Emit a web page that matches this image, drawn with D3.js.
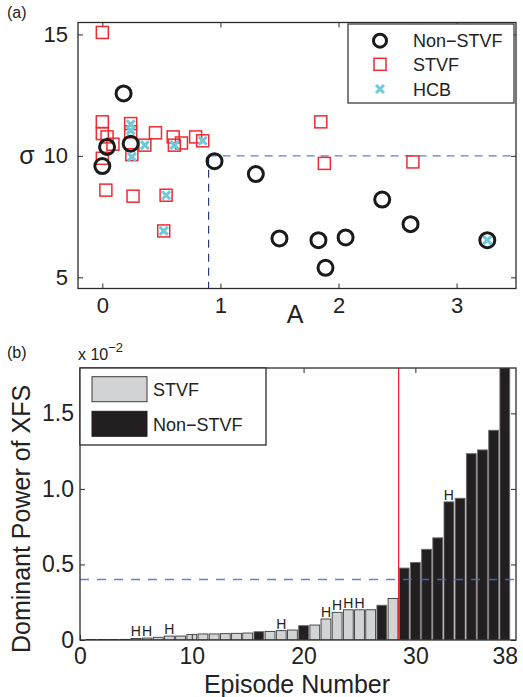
<!DOCTYPE html>
<html>
<head>
<meta charset="utf-8">
<script src="https://cdn.jsdelivr.net/npm/d3@7"></script>
<style>
  html, body { margin: 0; padding: 0; background: #fff; }
  svg { display: block; }
  text { font-family: "Liberation Sans", Arial, Helvetica, sans-serif; fill: #222; }
</style>
</head>
<body>
<svg id="chart" width="523" height="697"></svg>
<script>
// ---------- Panel (a) data ----------
const nonStvfA     = [0.00, 0.04, 0.18, 0.24, 0.95, 1.30, 1.50, 1.83, 1.89, 2.06, 2.37, 2.61, 3.26];
const nonStvfSigma = [9.58, 10.37, 12.57, 10.50, 9.78, 9.25, 6.60, 6.53, 5.39, 6.64, 8.20, 7.19, 6.53];

const stvfA     = [0.00, 0.00, 0.00, 0.04, 0.09, 0.00, 0.03, 0.24, 0.24, 0.25, 0.36, 0.45, 0.60, 0.61, 0.67, 0.79, 0.85, 0.26, 0.54, 0.52, 1.85, 1.88, 2.63];
const stvfSigma = [15.08, 11.40, 10.92, 10.78, 10.48, 9.90, 8.59, 11.33, 10.99, 10.05, 10.44, 10.95, 10.78, 10.44, 10.53, 10.78, 10.62, 8.34, 8.38, 6.91, 11.40, 9.69, 9.75];

const hcbA     = [0.24, 0.24, 0.25, 0.36, 0.61, 0.85, 0.54, 0.52, 3.26];
const hcbSigma = [11.30, 11.05, 9.96, 10.44, 10.44, 10.62, 8.38, 6.91, 6.53];

const aTicks = [0, 1, 2, 3];
const sigmaTicks = [5, 10, 15];
const thresholdA = 0.9;
const thresholdSigma = 10;
const legendA = ["Non\u2212STVF", "STVF", "HCB"];

// ---------- Panel (b) data ----------
const episodes = d3.range(1, 39);
const power = [0.003, 0.003, 0.003, 0.004, 0.010, 0.013, 0.018, 0.026, 0.026, 0.037,
               0.040, 0.040, 0.042, 0.044, 0.046, 0.055, 0.057, 0.062, 0.066, 0.095,
               0.099, 0.139, 0.183, 0.200, 0.200, 0.200, 0.230, 0.275, 0.476, 0.513,
               0.600, 0.676, 0.914, 0.938, 1.233, 1.258, 1.388, 1.800];
const episodeType = ["S","S","S","S","S","S","S","S","S","S",
                     "S","S","S","S","S","N","S","S","S","N",
                     "S","S","S","S","S","S","N","S","N","N",
                     "N","N","N","N","N","N","N","N"];
const hEpisodes = [5, 6, 8, 18, 22, 23, 24, 25, 33];
const episodeTicks = [0, 10, 20, 30, 38];
const powerTicks = [0, 0.5, 1.0, 1.5];
const powerTickLabels = ["0", "0.5", "1.0", "1.5"];
const thresholdPower = 0.4;
const splitEpisode = 28.5;
const legendB = ["STVF", "Non\u2212STVF"];

// ---------- Drawing ----------
const svg = d3.select("#chart");
const frameColor = "#2b2b2b";
const tickLen = 5;

function styleAxis(g, fs) {
  g.select(".domain").remove();
  g.selectAll(".tick line").attr("stroke", frameColor).attr("stroke-width", 1);
  g.selectAll(".tick text").attr("font-size", fs).attr("fill", "#222")
    .style("font-family", '"Liberation Sans", Arial, sans-serif');
}

// ===== Panel (a) =====
const ax = { left: 78, right: 516, top: 22.5, bottom: 288.5 };
const xA = d3.scaleLinear().domain([-0.206, 3.503]).range([ax.left, ax.right]);
const yA = d3.scaleLinear().domain([4.54, 15.49]).range([ax.bottom, ax.top]);

const gA = svg.append("g");
gA.append("rect").attr("x", ax.left).attr("y", ax.top)
  .attr("width", ax.right - ax.left).attr("height", ax.bottom - ax.top)
  .attr("fill", "#fff");

const axBottomA = d3.axisBottom(xA).tickValues(aTicks).tickSize(-tickLen).tickPadding(9).tickFormat(d3.format("d"));
const axTopA = d3.axisTop(xA).tickValues(aTicks).tickSize(-tickLen).tickFormat("");
const axLeftA = d3.axisLeft(yA).tickValues(sigmaTicks).tickSize(-tickLen).tickPadding(10).tickFormat(d3.format("d"));
const axRightA = d3.axisRight(yA).tickValues(sigmaTicks).tickSize(-tickLen).tickFormat("");

gA.append("g").attr("transform", `translate(0,${ax.bottom})`).call(axBottomA).call(g => styleAxis(g, 22));
gA.append("g").attr("transform", `translate(0,${ax.top})`).call(axTopA).call(g => styleAxis(g, 22));
gA.append("g").attr("transform", `translate(${ax.left},0)`).call(axLeftA).call(g => styleAxis(g, 22));
gA.append("g").attr("transform", `translate(${ax.right},0)`).call(axRightA).call(g => styleAxis(g, 22));

// threshold dashed lines
gA.append("line")
  .attr("x1", xA(thresholdA)).attr("x2", xA.range()[1])
  .attr("y1", yA(thresholdSigma)).attr("y2", yA(thresholdSigma))
  .attr("stroke", "#5f7fd0").attr("stroke-width", 1.3).attr("stroke-dasharray", "8,6");
gA.append("line")
  .attr("x1", xA(thresholdA)).attr("x2", xA(thresholdA))
  .attr("y1", yA(thresholdSigma)).attr("y2", ax.bottom)
  .attr("stroke", "#2c3b78").attr("stroke-width", 1.2).attr("stroke-dasharray", "8,6");

// STVF squares
const sq = 12;
gA.append("g").selectAll("rect").data(d3.zip(stvfA, stvfSigma)).join("rect")
  .attr("x", d => xA(d[0]) - sq / 2).attr("y", d => yA(d[1]) - sq / 2)
  .attr("width", sq).attr("height", sq)
  .attr("fill", "none").attr("stroke", "#ee2a33").attr("stroke-width", 1.5);

// Non-STVF circles
gA.append("g").selectAll("circle").data(d3.zip(nonStvfA, nonStvfSigma)).join("circle")
  .attr("cx", d => xA(d[0])).attr("cy", d => yA(d[1])).attr("r", 7.5)
  .attr("fill", "none").attr("stroke", "#1a1a1a").attr("stroke-width", 3);

// HCB crosses
const xs = 4;
const crossPath = (cx, cy) => `M${cx - xs},${cy - xs}L${cx + xs},${cy + xs}M${cx - xs},${cy + xs}L${cx + xs},${cy - xs}`;
gA.append("g").selectAll("path").data(d3.zip(hcbA, hcbSigma)).join("path")
  .attr("d", d => crossPath(xA(d[0]), yA(d[1])))
  .attr("stroke", "#6ccbdb").attr("stroke-width", 3).attr("fill", "none");

// frame
gA.append("rect").attr("x", ax.left).attr("y", ax.top)
  .attr("width", ax.right - ax.left).attr("height", ax.bottom - ax.top)
  .attr("fill", "none").attr("stroke", frameColor).attr("stroke-width", 1.3);

// legend (a)
const lgA = { x: 348, y: 24, w: 166, h: 79 };
gA.append("rect").attr("x", lgA.x).attr("y", lgA.y).attr("width", lgA.w).attr("height", lgA.h)
  .attr("fill", "#fff").attr("stroke", frameColor).attr("stroke-width", 1.2);
const lgRowY = [40.7, 64.3, 89];
const lgMarkX = 380;
gA.append("circle").attr("cx", lgMarkX).attr("cy", lgRowY[0]).attr("r", 6.5)
  .attr("fill", "none").attr("stroke", "#1a1a1a").attr("stroke-width", 3);
gA.append("rect").attr("x", lgMarkX - 6).attr("y", lgRowY[1] - 6).attr("width", 12).attr("height", 12)
  .attr("fill", "none").attr("stroke", "#ee2a33").attr("stroke-width", 1.5);
gA.append("path").attr("d", crossPath(lgMarkX, lgRowY[2]))
  .attr("stroke", "#6ccbdb").attr("stroke-width", 3);
gA.append("g").selectAll("text").data(legendA).join("text")
  .attr("x", 413).attr("y", (d, i) => lgRowY[i] + 6.5)
  .attr("font-size", 18).text(d => d);

// labels (a)
svg.append("text").attr("x", 7).attr("y", 18).attr("font-size", 16).text("(a)");
svg.append("text").attr("x", 27).attr("y", 164).attr("font-size", 25).attr("text-anchor", "middle").text("\u03c3");
svg.append("text").attr("x", 295).attr("y", 323).attr("font-size", 25).attr("text-anchor", "middle").text("A");

// ===== Panel (b) =====
const bx = { left: 80, right: 516, top: 368, bottom: 640 };
const xB = d3.scaleLinear().domain([0, 39]).range([bx.left, bx.right]);
const yB = d3.scaleLinear().domain([0, 1.8]).range([bx.bottom, bx.top]);
const barW = (xB(1) - xB(0)) * 0.88;

const gB = svg.append("g");
const clip = svg.append("defs").append("clipPath").attr("id", "clipB");
clip.append("rect").attr("x", bx.left).attr("y", bx.top).attr("width", bx.right - bx.left).attr("height", bx.bottom - bx.top);

const barData = episodes.map((e, i) => ({ e, v: power[i], t: episodeType[i] }));
gB.append("g").attr("clip-path", "url(#clipB)").selectAll("rect").data(barData).join("rect")
  .attr("x", d => xB(d.e) - barW / 2).attr("width", barW)
  .attr("y", d => yB(d.v)).attr("height", d => yB(0) - yB(d.v))
  .attr("fill", d => d.t === "S" ? "#d2d3d5" : "#231f20")
  .attr("stroke", d => d.t === "S" ? "#3a3a3a" : "#6a6a6a").attr("stroke-width", 0.9);

// H labels
gB.append("g").selectAll("text").data(hEpisodes).join("text")
  .attr("x", e => xB(e)).attr("y", e => yB(power[e - 1]) - 2)
  .attr("text-anchor", "middle").attr("font-size", 14).attr("fill", "#2a2a2a").text("H");

// threshold and split lines
gB.append("line").attr("x1", bx.left).attr("x2", bx.right)
  .attr("y1", yB(thresholdPower)).attr("y2", yB(thresholdPower))
  .attr("stroke", "#4a6bd0").attr("stroke-opacity", 0.85).attr("stroke-width", 1.4).attr("stroke-dasharray", "9,8");
gB.append("line").attr("x1", xB(splitEpisode)).attr("x2", xB(splitEpisode))
  .attr("y1", bx.top).attr("y2", bx.bottom)
  .attr("stroke", "#e8262d").attr("stroke-width", 1.3);

// axes (b)
const axBottomB = d3.axisBottom(xB).tickValues(episodeTicks).tickSize(-tickLen).tickPadding(8).tickFormat(d3.format("d"));
const axTopB = d3.axisTop(xB).tickValues(episodeTicks).tickSize(-tickLen).tickFormat("");
const axLeftB = d3.axisLeft(yB).tickValues(powerTicks).tickSize(-tickLen).tickPadding(6).tickFormat((d, i) => powerTickLabels[i]);
const axRightB = d3.axisRight(yB).tickValues(powerTicks).tickSize(-tickLen).tickFormat("");
gB.append("g").attr("transform", `translate(0,${bx.bottom})`).call(axBottomB).call(g => styleAxis(g, 23));
gB.append("g").attr("transform", `translate(0,${bx.top})`).call(axTopB).call(g => styleAxis(g, 23));
gB.append("g").attr("transform", `translate(${bx.left},0)`).call(axLeftB).call(g => styleAxis(g, 23));
gB.append("g").attr("transform", `translate(${bx.right},0)`).call(axRightB).call(g => styleAxis(g, 23));

gB.append("rect").attr("x", bx.left).attr("y", bx.top)
  .attr("width", bx.right - bx.left).attr("height", bx.bottom - bx.top)
  .attr("fill", "none").attr("stroke", frameColor).attr("stroke-width", 1.3);

// legend (b)
const lgB = { x: 80, y: 368, w: 186, h: 77 };
gB.append("rect").attr("x", lgB.x).attr("y", lgB.y).attr("width", lgB.w).attr("height", lgB.h)
  .attr("fill", "#fff").attr("stroke", frameColor).attr("stroke-width", 1.3);
const lgBRows = [389.2, 423.8];
gB.append("g").selectAll("rect").data(legendB).join("rect")
  .attr("x", 92).attr("y", (d, i) => lgBRows[i] - 12.5).attr("width", 55).attr("height", 25)
  .attr("fill", (d, i) => i === 0 ? "#d2d3d5" : "#231f20")
  .attr("stroke", (d, i) => i === 0 ? "#3a3a3a" : "#231f20").attr("stroke-width", 1);
gB.append("g").selectAll("text").data(legendB).join("text")
  .attr("x", 153).attr("y", (d, i) => lgBRows[i] + 7)
  .attr("font-size", 18).text(d => d);

// labels (b)
svg.append("text").attr("x", 7).attr("y", 358).attr("font-size", 16).text("(b)");
const mult = svg.append("text").attr("x", 78).attr("y", 360).attr("font-size", 16);
mult.append("tspan").text("x 10");
mult.append("tspan").attr("dy", -8).attr("font-size", 13).text("\u22122");
svg.append("text").attr("x", 297).attr("y", 693).attr("font-size", 25).attr("text-anchor", "middle").text("Episode Number");
svg.append("text").attr("transform", `translate(30,${(bx.top + bx.bottom) / 2 + 15}) rotate(-90)`)
  .attr("font-size", 25).attr("text-anchor", "middle").text("Dominant Power of XFS");
</script>
</body>
</html>
